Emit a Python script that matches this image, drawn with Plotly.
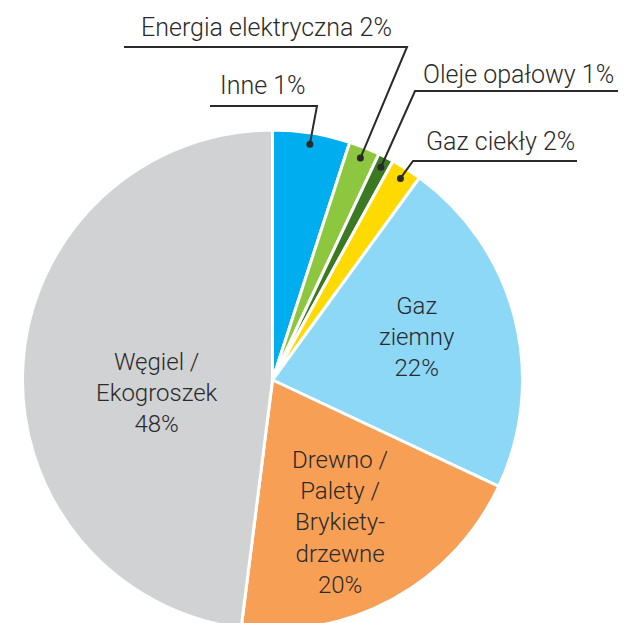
import math
import plotly.graph_objects as go

# ---- data ----
labels = ["Inne", "Energia elektryczna", "Oleje opałowy", "Gaz ciekły",
          "Gaz ziemny", "Drewno / Palety / Brykiety-drzewne", "Węgiel / Ekogroszek"]
values = [5, 2, 1, 2, 22, 20, 48]
pct_text = ["1%", "2%", "1%", "2%", "22%", "20%", "48%"]
inside_text = {
    4: "Gaz<br>ziemny<br>22%",
    5: "Drewno /<br>Palety /<br>Brykiety-<br>drzewne<br>20%",
    6: "Węgiel /<br>Ekogroszek<br>48%",
}
colors = ["#00AEEF", "#8DC63F", "#3B7A23", "#FFDA00", "#8DD7F7", "#F79F55", "#D1D2D4"]

OFF = 8            # page body margin
W, H = 618, 623
TXT = "#2a2a2a"
FONT = "Roboto"

def px(x, y):
    """window pixel -> paper coords"""
    return (x - OFF) / W, 1 - (y - OFF) / H

# pie geometry (window pixels)
left, right, top, bottom = 22.5, 522.5, 130, 630
dom_x = [(left - OFF) / W, (right - OFF) / W]
dom_y = [1 - (bottom - OFF) / H, 1 - (top - OFF) / H]
R = (right - left) / 2
cx = (left + right) / 2
cy = top + R

fig = go.Figure(go.Pie(
    labels=labels, values=values, sort=False, direction="clockwise", rotation=0,
    marker=dict(colors=colors, line=dict(color="white", width=3)),
    textinfo="none", hoverinfo="label+percent", showlegend=False,
    domain=dict(x=dom_x, y=dom_y),
))

total = sum(values)
cum = 0
mids = []
for v in values:
    mids.append((cum + v / 2) / total * 2 * math.pi)
    cum += v

def dot_pos(i, frac=0.955):
    a = mids[i]
    return cx + R * frac * math.sin(a), cy - R * frac * math.cos(a)

# outside leader labels: (index, elbow px, horizontal end x, text center px)
outer = [
    (0, (317, 106), 210, (263, 86)),
    (1, (407, 47), 124, (266, 28)),
    (2, (415, 91), 626, (518, 74)),
    (3, (413, 161), 577, (500, 142)),
]
shapes = []
annotations = []
for i, (ex, ey), hx, (tx, ty) in outer:
    dx, dy = dot_pos(i)
    p1 = px(dx, dy); p2 = px(ex, ey); p3 = px(hx, ey)
    shapes.append(dict(type="path", xref="paper", yref="paper",
                       path=f"M {p1[0]},{p1[1]} L {p2[0]},{p2[1]} L {p3[0]},{p3[1]}",
                       line=dict(color=TXT, width=2)))
    shapes.append(dict(type="circle", xref="paper", yref="paper",
                       xsizemode="pixel", ysizemode="pixel",
                       xanchor=p1[0], yanchor=p1[1], x0=-3.5, x1=3.5, y0=-3.5, y1=3.5,
                       fillcolor=TXT, line=dict(width=0)))
    tpx, tpy = px(tx, ty)
    annotations.append(dict(x=tpx, y=tpy, xref="paper", yref="paper",
                            text=f"{labels[i]} {pct_text[i]}", showarrow=False,
                            xanchor="center", yanchor="middle",
                            font=dict(family=FONT, size=25, color=TXT, weight=300)))

inner_pos = {4: (417, 337), 5: (340, 522), 6: (157, 393)}
for i, (tx, ty) in inner_pos.items():
    tpx, tpy = px(tx, ty)
    annotations.append(dict(x=tpx, y=tpy, xref="paper", yref="paper",
                            text=inside_text[i], showarrow=False,
                            xanchor="center", yanchor="middle",
                            font=dict(family=FONT, size=24, color=TXT, weight=300)))

fig.update_layout(width=W, height=H, margin=dict(l=0, r=0, t=0, b=0),
                  paper_bgcolor="white", plot_bgcolor="white",
                  shapes=shapes, annotations=annotations)
fig.write_html("out.html")
